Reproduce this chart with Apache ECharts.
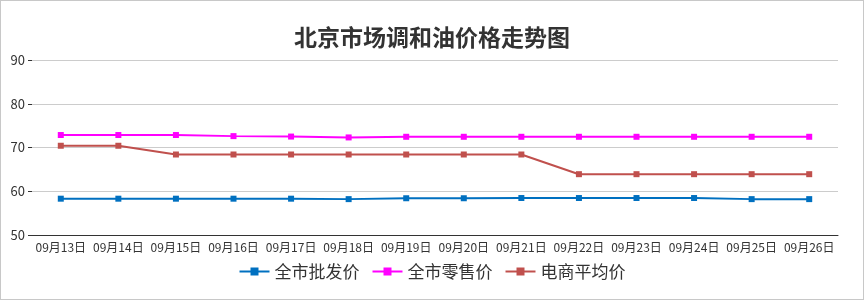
<!DOCTYPE html>
<html><head><meta charset="utf-8">
<script src="https://cdn.jsdelivr.net/npm/echarts@6/dist/echarts.min.js"></script>
<style>
html,body{margin:0;padding:0;background:#fff;}
#c{width:862px;height:298px;border:1px solid #c8c8c8;}
</style></head>
<body><div id="c"></div>
<script>
const categories = ['09月13日','09月14日','09月15日','09月16日','09月17日','09月18日','09月19日','09月20日','09月21日','09月22日','09月23日','09月24日','09月25日','09月26日'];
const wholesale = [58.3,58.3,58.3,58.3,58.3,58.2,58.4,58.4,58.45,58.45,58.45,58.45,58.2,58.2];
const retail = [72.85,72.85,72.85,72.6,72.5,72.3,72.45,72.45,72.45,72.45,72.45,72.45,72.45,72.45];
const online = [70.4,70.4,68.4,68.4,68.4,68.4,68.4,68.4,68.4,63.9,63.9,63.9,63.9,63.9];
const yTicks = [50,60,70,80,90];
const seriesNames = ['全市批发价','全市零售价','电商平均价'];
const colors = ['#0070C0','#FF00FF','#C0504D'];
const chart = echarts.init(document.getElementById('c'));
const font = 'Microsoft YaHei, "Noto Sans CJK SC", sans-serif';
chart.setOption({
  animation:false,
  title:{text:'北京市场调和油价格走势图',left:'center',top:20,textStyle:{fontSize:23,fontWeight:'bold',color:'#333',fontFamily:font}},
  legend:{bottom:14,left:'center',itemGap:12,itemWidth:30,itemHeight:10,textStyle:{fontSize:17,color:'#333',fontFamily:font},data:seriesNames},
  grid:{left:31,right:25,top:59,bottom:64},
  xAxis:{type:'category',data:categories,boundaryGap:true,
    axisLine:{lineStyle:{color:'#333'}},axisTick:{lineStyle:{color:'#333'}},
    axisLabel:{interval:0,color:'#333',fontSize:12,fontFamily:font,margin:6}},
  yAxis:{type:'value',min:yTicks[0],max:yTicks[yTicks.length-1],interval:10,
    axisLine:{show:false},axisTick:{show:true,length:4,lineStyle:{color:'#333'}},
    axisLabel:{color:'#333',fontSize:13,fontFamily:font,margin:7},
    splitLine:{lineStyle:{color:'#ccc'}}},
  series:[wholesale,retail,online].map((d,i)=>({
    name:seriesNames[i],type:'line',data:d,symbol:'rect',symbolSize:6,
    itemStyle:{color:colors[i]},lineStyle:{width:2,color:colors[i]}
  }))
});
</script></body></html>
